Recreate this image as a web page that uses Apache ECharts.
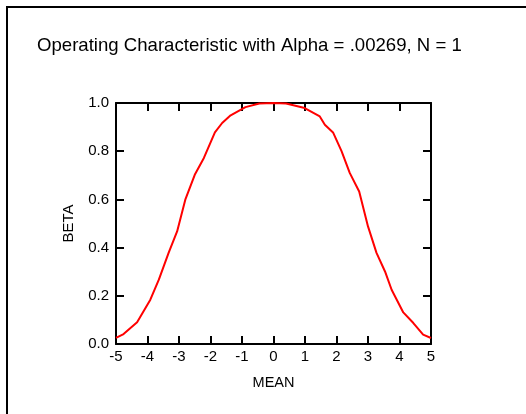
<!DOCTYPE html>
<html>
<head>
<meta charset="utf-8">
<script src="https://cdn.jsdelivr.net/npm/echarts@6/dist/echarts.min.js"></script>
<style>html,body{margin:0;padding:0;background:#fff;}#c{width:526px;height:414px;}</style>
</head>
<body>
<div id="c"></div>
<script>
const titleText = 'Operating Characteristic with Alpha = .00269, N = 1';
const xName = 'MEAN';
const yName = 'BETA';
const meanValues = [-5, -4.76, -4.33, -3.91, -3.64, -3.33, -3.06, -2.8, -2.5, -2.21, -1.86, -1.63, -1.36, -0.89, -0.45, 0, 0.4, 0.99, 1.47, 1.63, 1.89, 2.16, 2.42, 2.72, 3.0, 3.27, 3.54, 3.75, 4.12, 4.44, 4.75, 5];
const betaValues = [0.025, 0.041, 0.09, 0.184, 0.267, 0.378, 0.467, 0.599, 0.702, 0.772, 0.878, 0.917, 0.949, 0.983, 0.998, 1.0, 0.998, 0.979, 0.944, 0.91, 0.878, 0.80, 0.71, 0.633, 0.488, 0.378, 0.301, 0.225, 0.131, 0.087, 0.039, 0.025];
const xTicks = [-5, 5, 1];
const yTicks = [0, 1, 0.2];

const font = 'Liberation Sans, Arial, sans-serif';
const chart = echarts.init(document.getElementById('c'), null, {renderer: 'canvas'});
const axisCommon = {
  axisLine: {show: true, onZero: false, lineStyle: {color: '#000', width: 2}},
  axisTick: {show: true, inside: true, length: 8, lineStyle: {color: '#000', width: 2}},
  splitLine: {show: false}
};
chart.setOption({
  animation: false,
  backgroundColor: '#fff',
  title: {
    text: titleText, left: 37, top: 36, padding: 0,
    textStyle: {fontFamily: font, fontSize: 18.6, fontWeight: 'normal', color: '#000'}
  },
  graphic: [
    {type: 'polyline', shape: {points: [[7, 420], [7, 7], [530, 7]]}, style: {stroke: '#000', lineWidth: 2, fill: null}}
  ],
  grid: {left: 116, top: 103, width: 315, height: 241},
  xAxis: [
    Object.assign({type: 'value', min: xTicks[0], max: xTicks[1], interval: xTicks[2], position: 'bottom',
      name: xName, nameLocation: 'middle', nameGap: 31,
      nameTextStyle: {fontFamily: font, fontSize: 14.5, color: '#000'},
      axisLabel: {fontFamily: font, fontSize: 15, color: '#000', margin: 5}}, axisCommon),
    Object.assign({type: 'value', min: xTicks[0], max: xTicks[1], interval: xTicks[2], position: 'top',
      axisLabel: {show: false}}, axisCommon)
  ],
  yAxis: [
    Object.assign({type: 'value', min: yTicks[0], max: yTicks[1], interval: yTicks[2], position: 'left',
      name: yName, nameLocation: 'middle', nameGap: 40, nameRotate: 90,
      nameTextStyle: {fontFamily: font, fontSize: 15, color: '#000'},
      axisLabel: {fontFamily: font, fontSize: 15, color: '#000', margin: 7, formatter: v => v.toFixed(1)}}, axisCommon),
    Object.assign({type: 'value', min: yTicks[0], max: yTicks[1], interval: yTicks[2], position: 'right',
      axisLabel: {show: false}}, axisCommon)
  ],
  series: [{
    type: 'line',
    data: meanValues.map((m, i) => [m, betaValues[i]]),
    showSymbol: false,
    symbol: 'none',
    lineStyle: {color: '#ff0000', width: 2},
    z: 1
  }]
});
</script>
</body>
</html>
